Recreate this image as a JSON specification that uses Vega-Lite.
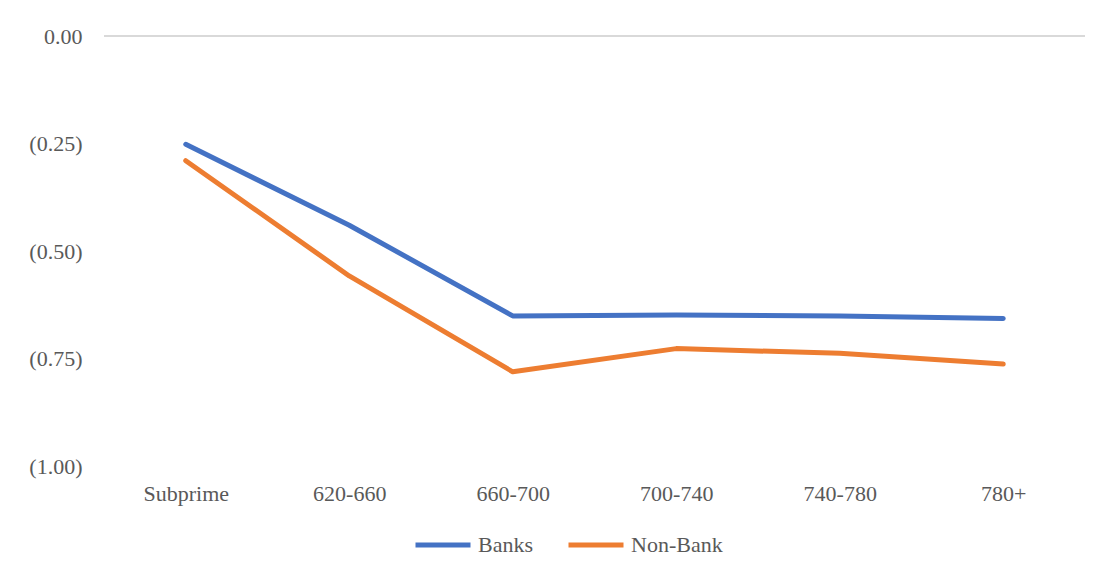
{
  "$schema": "https://vega.github.io/schema/vega-lite/v6.json",
  "width": 981,
  "height": 430,
  "autosize": "none",
  "padding": {"left": 104, "top": 36, "right": 19, "bottom": 111},
  "background": "#ffffff",
  "config": {
    "view": {"stroke": null},
    "font": "Liberation Serif",
    "axis": {"labelFont": "Liberation Serif", "labelColor": "#595959", "labelFontSize": 22},
    "legend": {"labelFont": "Liberation Serif", "labelColor": "#595959", "labelFontSize": 22}
  },
  "data": {
    "values": [
      {"band": "Subprime", "lender": "Banks", "value": -0.252},
      {"band": "620-660", "lender": "Banks", "value": -0.44},
      {"band": "660-700", "lender": "Banks", "value": -0.651},
      {"band": "700-740", "lender": "Banks", "value": -0.649},
      {"band": "740-780", "lender": "Banks", "value": -0.651},
      {"band": "780+", "lender": "Banks", "value": -0.657},
      {"band": "Subprime", "lender": "Non-Bank", "value": -0.29},
      {"band": "620-660", "lender": "Non-Bank", "value": -0.558},
      {"band": "660-700", "lender": "Non-Bank", "value": -0.781},
      {"band": "700-740", "lender": "Non-Bank", "value": -0.727},
      {"band": "740-780", "lender": "Non-Bank", "value": -0.738},
      {"band": "780+", "lender": "Non-Bank", "value": -0.763}
    ]
  },
  "layer": [
    {
      "mark": {"type": "rule", "color": "#d9d9d9", "strokeWidth": 1.5},
      "encoding": {"y": {"datum": 0, "type": "quantitative"}}
    },
    {
      "mark": {"type": "line", "strokeWidth": 5, "strokeCap": "round", "strokeJoin": "round"},
      "encoding": {
        "x": {
          "field": "band",
          "type": "ordinal",
          "sort": ["Subprime", "620-660", "660-700", "700-740", "740-780", "780+"],
          "scale": {"type": "point", "padding": 0.5},
          "axis": {"title": null, "domain": false, "ticks": false, "labelAngle": 0, "labelPadding": 27, "labelBaseline": "middle"}
        },
        "y": {
          "field": "value",
          "type": "quantitative",
          "scale": {"domain": [-1, 0], "nice": false},
          "axis": {
            "title": null,
            "values": [0, -0.25, -0.5, -0.75, -1],
            "domain": false,
            "ticks": false,
            "grid": false,
            "labelPadding": 22,
            "labelExpr": "datum.value < 0 ? '(' + format(-datum.value, '.2f') + ')' : format(datum.value, '.2f') + ' '"
          }
        },
        "color": {
          "field": "lender",
          "type": "nominal",
          "scale": {"domain": ["Banks", "Non-Bank"], "range": ["#4472c4", "#ed7d31"]},
          "legend": {
            "title": null,
            "orient": "none",
            "direction": "horizontal",
            "legendX": 309,
            "legendY": 479,
            "symbolType": "stroke",
            "symbolSize": 3025,
            "symbolStrokeWidth": 5,
            "labelOffset": 5,
            "columnPadding": 25
          }
        }
      }
    }
  ]
}
